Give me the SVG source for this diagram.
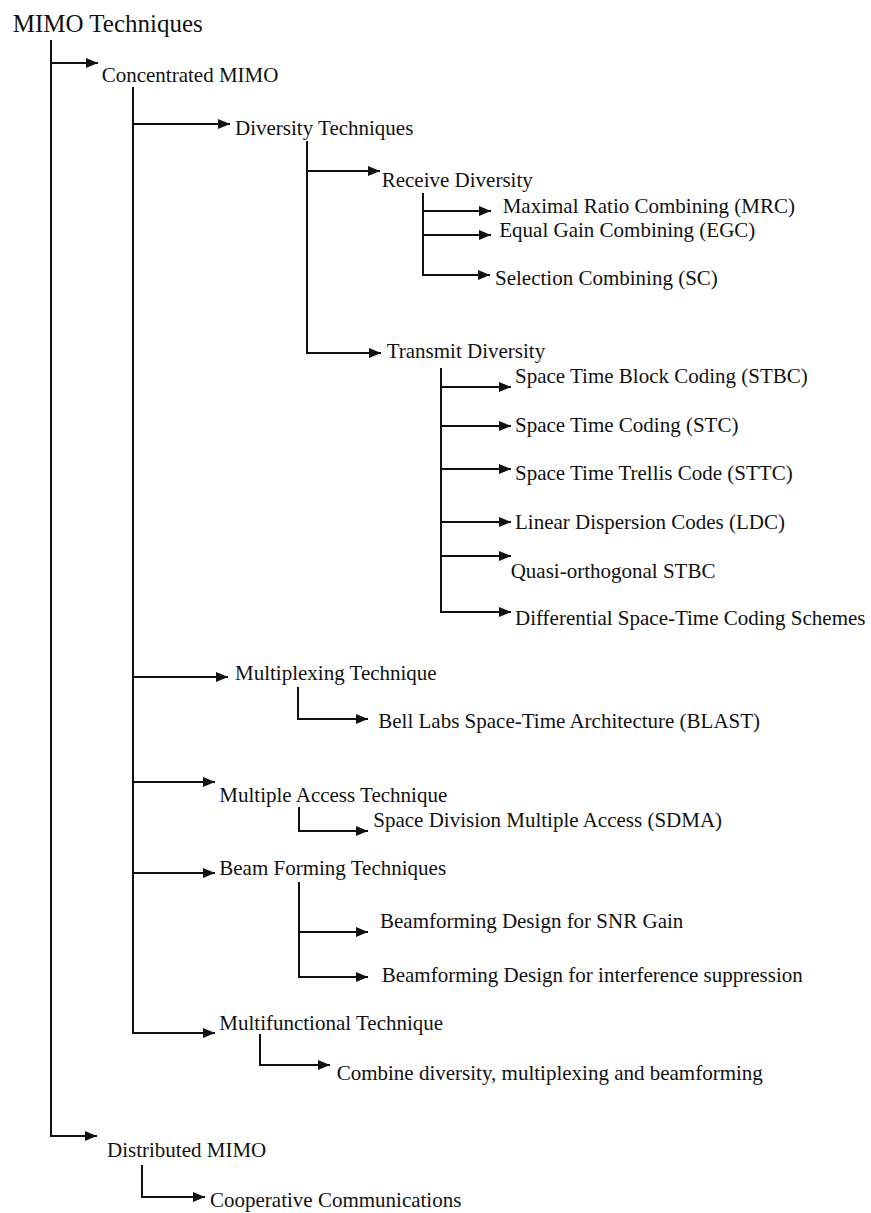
<svg xmlns="http://www.w3.org/2000/svg" width="871" height="1213" viewBox="0 0 871 1213">
  <defs>
    <marker id="arrow" viewBox="0 0 12 10" refX="12" refY="5" markerWidth="12" markerHeight="10" markerUnits="userSpaceOnUse" orient="auto">
      <path d="M0,0 L12,5 L0,10 z" fill="#111"/>
    </marker>
    <style>
      text { font-family: "Liberation Serif", "Times New Roman", serif; font-size: 21px; fill: #111; }
      .title { font-size: 25px; }
      .link { fill: none; stroke: #111; stroke-width: 2; marker-end: url(#arrow); }
    </style>
  </defs>
  <rect width="871" height="1213" fill="#fff"/>

  <!-- tree connectors: each path drops down the parent's spine, then runs right to the child -->
  <g id="connectors">
    <!-- root -->
    <path class="link" d="M51,40 V63 H98"/>
    <path class="link" d="M51,40 V1136 H97"/>
    <!-- concentrated MIMO -->
    <path class="link" d="M133,87 V124 H230"/>
    <path class="link" d="M133,87 V677 H228"/>
    <path class="link" d="M133,87 V782 H215"/>
    <path class="link" d="M133,87 V873 H215"/>
    <path class="link" d="M133,87 V1033 H215"/>
    <!-- diversity techniques -->
    <path class="link" d="M307,141 V171 H380"/>
    <path class="link" d="M307,141 V353 H381"/>
    <!-- receive diversity -->
    <path class="link" d="M423,193 V211 H491"/>
    <path class="link" d="M423,193 V235 H491"/>
    <path class="link" d="M423,193 V275 H490"/>
    <!-- transmit diversity -->
    <path class="link" d="M441,368 V387 H511"/>
    <path class="link" d="M441,368 V426 H511"/>
    <path class="link" d="M441,368 V469 H511"/>
    <path class="link" d="M441,368 V522 H511"/>
    <path class="link" d="M441,368 V556 H511"/>
    <path class="link" d="M441,368 V612 H511"/>
    <!-- multiplexing -->
    <path class="link" d="M298,687 V719 H368"/>
    <!-- multiple access -->
    <path class="link" d="M299,807 V831 H368"/>
    <!-- beam forming -->
    <path class="link" d="M299,882 V932 H368"/>
    <path class="link" d="M299,882 V977 H368"/>
    <!-- multifunctional -->
    <path class="link" d="M260,1034 V1065 H330"/>
    <!-- distributed MIMO -->
    <path class="link" d="M142,1165 V1197 H205"/>
  </g>

  <g id="mimo-techniques"><text class="title" x="12.7" y="31.5">MIMO Techniques</text></g>
  <g id="concentrated-mimo"><text x="101.7" y="81.7">Concentrated MIMO</text></g>
  <g id="diversity-techniques"><text x="235" y="135">Diversity Techniques</text></g>
  <g id="receive-diversity"><text x="381.7" y="186.7">Receive Diversity</text></g>
  <g id="mrc"><text x="502.7" y="213.3">Maximal Ratio Combining (MRC)</text></g>
  <g id="egc"><text x="499.3" y="236.7">Equal Gain Combining (EGC)</text></g>
  <g id="sc"><text x="495" y="285">Selection Combining (SC)</text></g>
  <g id="transmit-diversity"><text x="386.7" y="358">Transmit Diversity</text></g>
  <g id="stbc"><text x="515" y="383.3">Space Time Block Coding (STBC)</text></g>
  <g id="stc"><text x="515" y="431.7">Space Time Coding (STC)</text></g>
  <g id="sttc"><text x="515" y="480">Space Time Trellis Code (STTC)</text></g>
  <g id="ldc"><text x="515" y="529">Linear Dispersion Codes (LDC)</text></g>
  <g id="quasi-orthogonal-stbc"><text x="510.7" y="578.3">Quasi-orthogonal STBC</text></g>
  <g id="differential-stc"><text x="515" y="625">Differential Space-Time Coding Schemes</text></g>
  <g id="multiplexing-technique"><text x="235" y="680">Multiplexing Technique</text></g>
  <g id="blast"><text x="378.3" y="728.3">Bell Labs Space-Time Architecture (BLAST)</text></g>
  <g id="multiple-access-technique"><text x="219.3" y="801.7">Multiple Access Technique</text></g>
  <g id="sdma"><text x="373.3" y="826.7">Space Division Multiple Access (SDMA)</text></g>
  <g id="beam-forming-techniques"><text x="219.3" y="875">Beam Forming Techniques</text></g>
  <g id="bf-snr-gain"><text x="380" y="928.3">Beamforming Design for SNR Gain</text></g>
  <g id="bf-interference"><text x="381.7" y="981.7">Beamforming Design for interference suppression</text></g>
  <g id="multifunctional-technique"><text x="219.3" y="1030">Multifunctional Technique</text></g>
  <g id="combined"><text x="336.7" y="1080">Combine diversity, multiplexing and beamforming</text></g>
  <g id="distributed-mimo"><text x="107" y="1156.7">Distributed MIMO</text></g>
  <g id="cooperative-communications"><text x="210" y="1206.7">Cooperative Communications</text></g>
</svg>
